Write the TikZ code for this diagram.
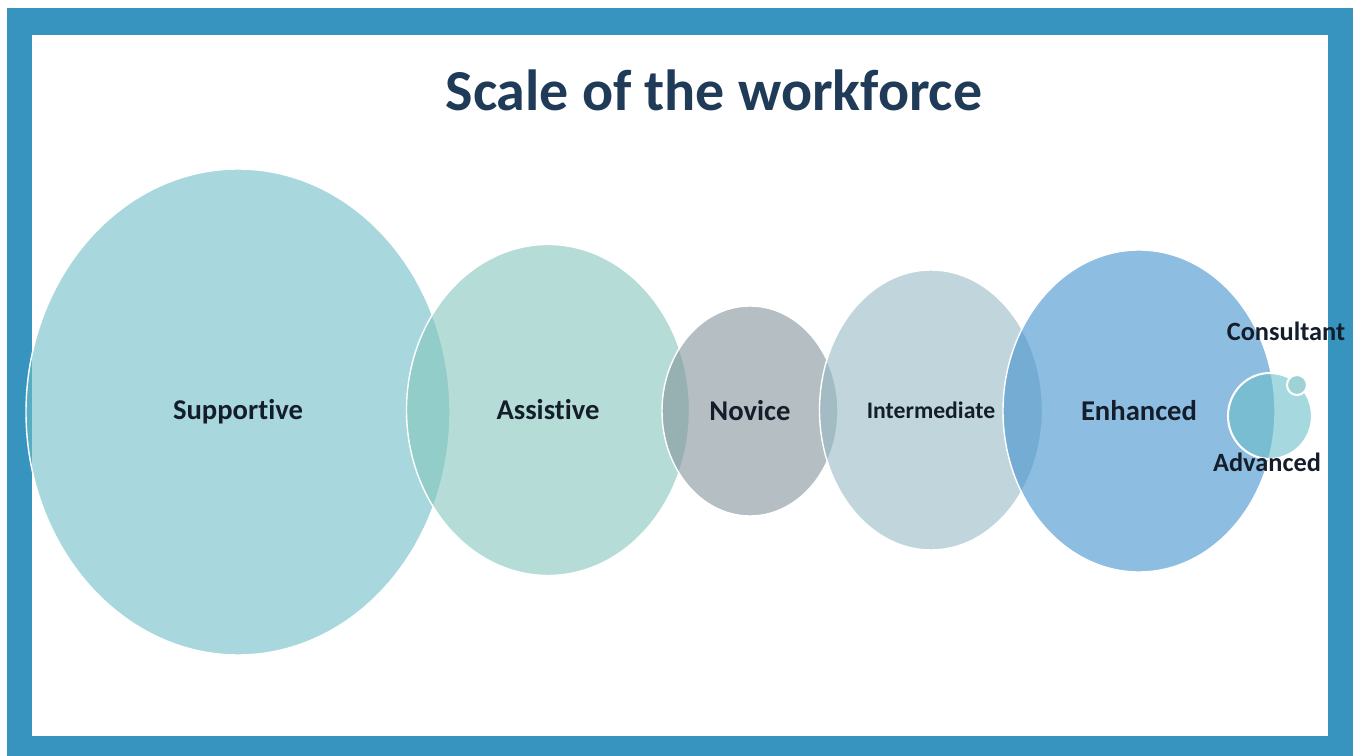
\documentclass[tikz,border=0pt]{standalone}
\usepackage{fontspec}
\setmainfont{Carlito}[Ligatures={NoCommon,NoRare,NoContextual}]
\usetikzlibrary{shapes.geometric}
\definecolor{framecol}{HTML}{3694BE}
\definecolor{titlecol}{HTML}{1F3B57}
\definecolor{labelcol}{HTML}{141E2A}
% fill colours, picked so that at 60% opacity they give the seen tints
\definecolor{supcol}{rgb}{0.431,0.745,0.785}
\definecolor{asscol}{rgb}{0.516,0.778,0.738}
\definecolor{novcol}{rgb}{0.516,0.582,0.608}
\definecolor{intcol}{rgb}{0.595,0.732,0.772}
\definecolor{enhcol}{rgb}{0.262,0.568,0.810}
\definecolor{advcol}{rgb}{0.418,0.745,0.792}
\definecolor{concol}{HTML}{9FD2D4}
\begin{document}
\begin{tikzpicture}[x=0.02cm,y=-0.02cm]
\newcommand{\pxs}{0.02cm}
\tikzstyle{disc}=[ellipse,draw=white,line width=0.8pt,fill opacity=0.6,text opacity=1,inner sep=0pt,outer sep=0pt,text=labelcol,font=\bfseries\fontsize{16.3}{19}\selectfont]
\tikzstyle{smalllabel}=[inner sep=0pt,text=labelcol,font=\bfseries\fontsize{15}{18}\selectfont]
\tikzstyle{title}=[inner sep=0pt,text=titlecol,font=\bfseries\fontsize{33}{40}\selectfont]
\useasboundingbox (0,0) rectangle (1357,756);
% frame
\fill[white] (0,0) rectangle (1357,756);
\fill[framecol] (7,8) rectangle (1353,756);
\fill[white] (32,35) rectangle (1328,736);
\node[title] (title) at (714,90) {Scale of the workforce};
% the circles
\node[disc,fill=supcol,minimum width=424*\pxs,minimum height=486*\pxs] (supportive) at (238,412) {Supportive};
\node[disc,fill=asscol,minimum width=283*\pxs,minimum height=331*\pxs] (assistive) at (548,410) {Assistive};
\node[disc,fill=novcol,minimum width=176*\pxs,minimum height=210*\pxs] (novice) at (750,411) {Novice};
\node[disc,fill=intcol,minimum width=223*\pxs,minimum height=280*\pxs,font=\bfseries\fontsize{13.5}{16}\selectfont] (intermediate) at (931,410) {Intermediate};
\node[disc,fill=enhcol,minimum width=272*\pxs,minimum height=322*\pxs] (enhanced) at (1139,411) {Enhanced};
\node[disc,fill=advcol,line width=1.2pt,minimum width=84*\pxs,minimum height=86*\pxs] (advanced) at (1270,416) {};
\node[disc,fill=concol,fill opacity=1,line width=1.2pt,minimum width=20*\pxs,minimum height=20*\pxs] (consultant) at (1297,385) {};
\node[smalllabel] (advlabel) at (1267,462) {Advanced};
\node[smalllabel] (conlabel) at (1286,331) {Consultant};
\end{tikzpicture}
\end{document}
